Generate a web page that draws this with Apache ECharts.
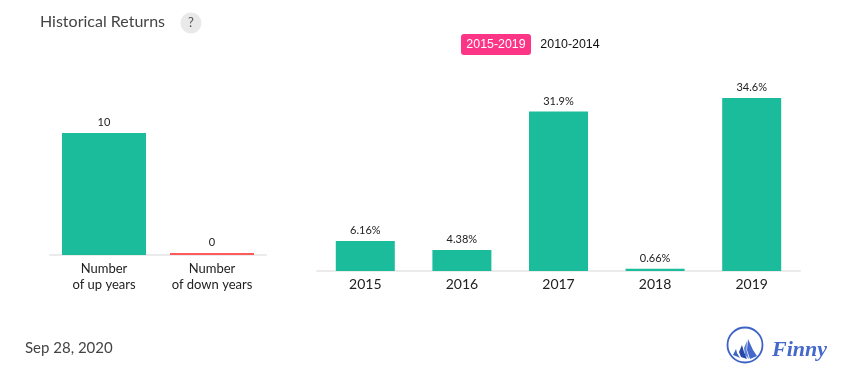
<!DOCTYPE html>
<html>
<head>
<meta charset="utf-8">
<style>html,body{margin:0;padding:0;background:#fff}#c{width:855px;height:382px}</style>
<script src="https://cdn.jsdelivr.net/npm/echarts@6/dist/echarts.min.js"></script>
</head>
<body>
<div id="c"></div>
<script>
const countCategories = ['Number\nof up years', 'Number\nof down years'];
const countValues = [10, 0];
const countColors = ['#1abc9c', '#ff5a5a'];
const yearCategories = ['2015', '2016', '2017', '2018', '2019'];
const yearValues = [6.16, 4.38, 31.9, 0.66, 34.6];
const yearLabels = ['6.16%', '4.38%', '31.9%', '0.66%', '34.6%'];
const titleText = 'Historical Returns';
const dateText = 'Sep 28, 2020';
const legendActive = '2015-2019';
const legendOther = '2010-2014';

const chart = echarts.init(document.getElementById('c'), null, {renderer: 'canvas'});
const axisCommon = {
  type: 'category',
  axisLine: {show: true, lineStyle: {color: '#ebebeb', width: 2}},
  axisTick: {show: false}
};
chart.setOption({
  animation: false,
  grid: [
    {left: 50, width: 216, top: 133, height: 122},
    {left: 317, width: 483, top: 98, height: 173}
  ],
  xAxis: [
    Object.assign({}, axisCommon, {gridIndex: 0, data: countCategories,
      axisLabel: {fontFamily: 'Lato', color: '#222', fontSize: 13, lineHeight: 16, margin: 6, interval: 0}}),
    Object.assign({}, axisCommon, {gridIndex: 1, data: yearCategories,
      axisLabel: {fontFamily: 'Lato', color: '#222', fontSize: 14, margin: 6, interval: 0}})
  ],
  yAxis: [
    {type: 'value', gridIndex: 0, min: 0, max: 10, show: false},
    {type: 'value', gridIndex: 1, min: 0.2, max: 34.6, show: false}
  ],
  series: [
    {
      type: 'bar', xAxisIndex: 0, yAxisIndex: 0, barWidth: 84, barMinHeight: 2,
      data: countValues.map((v, i) => ({value: v, itemStyle: {color: countColors[i]}})),
      label: {show: true, position: 'top', distance: 5, fontFamily: 'Lato', fontSize: 11, color: '#222'}
    },
    {
      type: 'bar', xAxisIndex: 1, yAxisIndex: 1, barWidth: 59,
      data: yearValues.map(v => ({value: v, itemStyle: {color: '#1abc9c'}})),
      label: {show: true, position: 'top', distance: 5, fontFamily: 'Lato', fontSize: 11, color: '#222',
        formatter: p => yearLabels[p.dataIndex]}
    }
  ],
  graphic: [
    {type: 'text', left: 40, top: 14, style: {text: titleText, font: '16px Lato', fill: '#444'}},
    {type: 'circle', shape: {cx: 191, cy: 23, r: 10.5}, style: {fill: '#e9e9e9'}},
    {type: 'text', style: {x: 191, y: 23, text: '?', font: '13px Lato', fill: '#555', align: 'center', verticalAlign: 'middle'}},
    {type: 'rect', shape: {x: 461, y: 34, width: 70, height: 21, r: 3}, style: {fill: '#fd3586'}},
    {type: 'text', style: {x: 496, y: 45, text: legendActive, font: '12.4px "Liberation Sans"', fill: '#fff', align: 'center', verticalAlign: 'middle'}},
    {type: 'text', style: {x: 570, y: 45, text: legendOther, font: '12.4px "Liberation Sans"', fill: '#111', align: 'center', verticalAlign: 'middle'}},
    {type: 'text', left: 25, top: 341, style: {text: dateText, font: '15px Lato', fill: '#444'}},
    {type: 'circle', shape: {cx: 745, cy: 345, r: 17.5}, style: {fill: 'none', stroke: '#3f63c4', lineWidth: 1.8}},
    {type: 'polygon', shape: {points: [[748, 339], [753, 350], [757, 356], [750, 359], [747, 350]]}, style: {fill: '#4468cc'}},
    {type: 'polygon', shape: {points: [[747, 341], [744, 348], [745, 355], [749, 359], [746.5, 350]]}, style: {fill: '#5f80d8'}},
    {type: 'polygon', shape: {points: [[742, 345], [739, 352], [741, 357], [747, 359], [744, 352]]}, style: {fill: '#2447a8'}},
    {type: 'polygon', shape: {points: [[736, 349], [733, 355], [738, 357], [740, 358], [737, 353]]}, style: {fill: '#3f63c4'}},
    {type: 'text', style: {x: 772, y: 350, text: 'Finny', font: 'italic bold 22px "Liberation Serif"', fill: '#4468cc', align: 'left', verticalAlign: 'middle'}}
  ]
});
</script>
</body>
</html>
